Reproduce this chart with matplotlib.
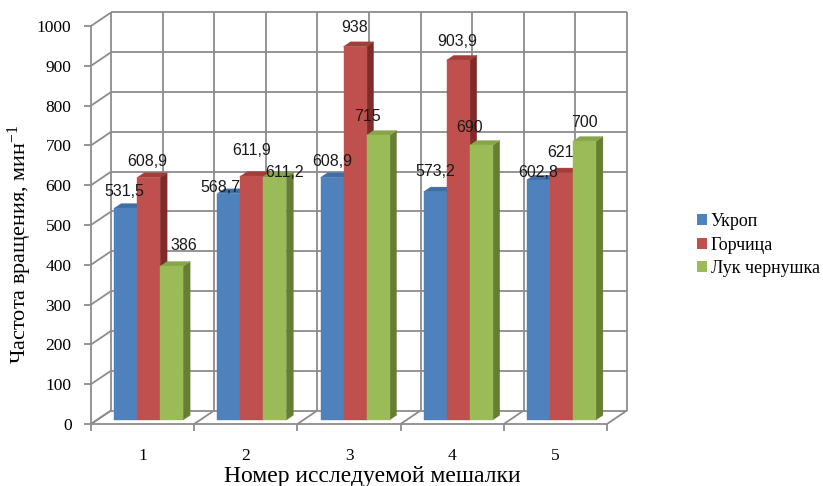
import numpy as np
import matplotlib.pyplot as plt
from matplotlib.patches import Polygon, Patch

plt.rcParams["mathtext.fontset"] = "custom"
plt.rcParams["mathtext.rm"] = "Liberation Serif"
plt.rcParams["mathtext.default"] = "regular"

# ---- данные ----
categories = ["1", "2", "3", "4", "5"]
series_names = ["Укроп", "Горчица", "Лук чернушка"]
ukrop = [531.5, 568.7, 608.9, 573.2, 602.8]
gorchica = [608.9, 611.9, 938, 903.9, 621]
luk = [386, 611.2, 715, 690, 700]
y_ticks = [0, 100, 200, 300, 400, 500, 600, 700, 800, 900, 1000]

series = [ukrop, gorchica, luk]
front_col = ["#4F81BD", "#C0504D", "#9BBB59"]
top_col = ["#3F6DA6", "#A33D3A", "#86A649"]
side_col = ["#2F5484", "#7E2C2A", "#657E33"]
grid_col = "#8C8C8C"

# сдвиг подписей над столбцами (пиксели)
label_nudge = [
    [(-1, 17), (-8, 6), (0, 16), (0, 20), (0, 8)],
    [(-1, 16), (0, 26), (0, 19), (-1, 19), (-1, 20)],
    [(12, 21), (10, 4), (-11, 19), (-12, 18), (0, 19)],
]

W, H = 823, 486
fig = plt.figure(figsize=(W / 100, H / 100), dpi=100)

# передняя плоскость диаграммы в пикселях
X0, X1, Y0, Y1 = 91, 607, 26, 424
ax = fig.add_axes([X0 / W, 1 - Y1 / H, (X1 - X0) / W, (Y1 - Y0) / H])
n = len(categories)
ax.set_xlim(0.5, n + 0.5)
ax.set_ylim(0, 1000)
PX = (X1 - X0) / n        # пикселей на категорию
PY = (Y1 - Y0) / 1000     # пикселей на единицу
DX, DY = 20 / PX, 13.5 / PY   # глубина "пола"

def gline(xs, ys):
    ax.plot(xs, ys, color=grid_col, lw=1.3, clip_on=False, zorder=1,
            solid_capstyle="butt")

# задняя стенка, левая стенка, пол
for v in y_ticks:
    gline([0.5 + DX, n + 0.5 + DX], [v + DY, v + DY])
    gline([0.5, 0.5 + DX], [v, v + DY])
for xv in np.arange(0.5, n + 0.51, 0.5):
    gline([xv + DX, xv + DX], [DY, 1000 + DY])
for xv in np.arange(0.5, n + 0.51, 1.0):
    gline([xv, xv + DX], [0, DY])

# столбцы (псевдо-3D)
bw = 23 / PX
f = 0.3
bdx, bdy = 0.35 * DX, 0.35 * DY
z = 2
for i in range(n):
    for j, vals in enumerate(series):
        v = vals[i]
        xl = (i + 1) - 1.5 * bw + j * bw + f * DX
        xr = xl + bw
        yb = f * DY
        yt = v + yb
        side = [(xr, yb), (xr + bdx, yb + bdy), (xr + bdx, yt + bdy), (xr, yt)]
        top = [(xl, yt), (xr, yt), (xr + bdx, yt + bdy), (xl + bdx, yt + bdy)]
        front = [(xl, yb), (xr, yb), (xr, yt), (xl, yt)]
        for pts, c in ((side, side_col[j]), (top, top_col[j]), (front, front_col[j])):
            ax.add_patch(Polygon(pts, closed=True, facecolor=c, edgecolor=c,
                                 lw=0.3, clip_on=False, zorder=z))
        z += 0.01
        ndx, ndy = label_nudge[j][i]
        txt = f"{v:g}".replace(".", ",")
        ax.text((xl + xr) / 2 + ndx / PX, yt + ndy / PY, txt,
                ha="center", va="center", fontsize=11.5,
                family="Liberation Sans", color="#1a1a1a", zorder=10)

# оси
for s in ("top", "right"):
    ax.spines[s].set_visible(False)
for s in ("left", "bottom"):
    ax.spines[s].set_color(grid_col)
    ax.spines[s].set_linewidth(1.3)
ax.set_facecolor("none")
ax.set_yticks(y_ticks)
ax.set_yticklabels([str(t) for t in y_ticks], family="Liberation Serif", fontsize=12.5)
ax.tick_params(axis="y", direction="out", length=5, color=grid_col, width=1.3, pad=9)
ax.set_xticks(range(1, n + 1))
ax.set_xticklabels(categories, family="Liberation Serif", fontsize=12.5)
ax.tick_params(axis="x", which="major", length=0, pad=17)
ax.set_xticks(np.arange(0.5, n + 0.51, 1.0), minor=True)
ax.tick_params(axis="x", which="minor", direction="out", length=5, color=grid_col, width=1.3)

fig.text(372 / W, 1 - 476 / H, "Номер исследуемой мешалки", ha="center", va="center",
         family="Liberation Serif", fontsize=17)
fig.text(20 / W, 1 - 244 / H, "Частота вращения, мин$^{-1}$", rotation=90,
         ha="center", va="center", family="Liberation Serif", fontsize=16)

handles = [Patch(facecolor=c, edgecolor="none") for c in front_col]
fig.legend(handles, series_names, loc="center left",
           bbox_to_anchor=(688 / W, 1 - 245 / H), frameon=False,
           prop={"family": "Liberation Serif", "size": 13},
           handlelength=0.55, handleheight=0.55, handletextpad=0.2,
           labelspacing=0.35, borderpad=0)

fig.savefig("out.png", dpi=100, facecolor="white")
